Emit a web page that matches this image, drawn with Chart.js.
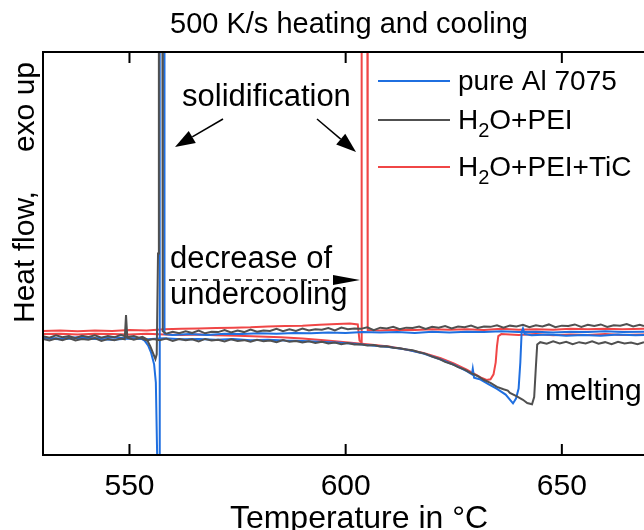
<!DOCTYPE html>
<html lang="en">
<head>
<meta charset="utf-8">
<title>500 K/s heating and cooling</title>
<script src="https://cdn.jsdelivr.net/npm/chart.js@4.4.0/dist/chart.umd.min.js"></script>
<style>
  html, body { margin: 0; padding: 0; background: #fff; }
  #wrap { width: 644px; height: 530px; }
</style>
</head>
<body>
<div id="wrap"><canvas id="dsc" width="644" height="530"></canvas></div>
<script>
// DSC traces at 500 K/s: [temperature °C, heat flow (a.u., exo up)]
const xTicks = [550, 600, 650];
const seriesNames = ['pure Al 7075', 'H2O+PEI', 'H2O+PEI+TiC'];
const seriesColors = ['#1f6fe0', '#505050', '#f04646'];

const alHeat = [[530,-1.1],[534,-1.3],[538,-1.0],[542,-1.2],[546,-1.4],[550,-1.1],[554,-1.3],[558,-1.0],[562,-1.3],[566,-1.2],[570,-1.4],[574,-1.2],[578,-1.5],[582,-1.4],[586,-1.6],[590,-1.7],[594,-1.9],[598,-2.1],[602,-2.4],[606,-2.8],[610,-3.2],[614,-3.8],[618,-4.8],[622,-6.3],[625,-7.6],[628,-9.2],[629.2,-10.0],[629.4,-8.6],[629.7,-10.8],[631,-11.2],[633,-12.4],[635,-13.6],[637,-15.0],[638.7,-17.2],[639.4,-16.0],[640,-13.5],[640.4,-7.0],[640.7,0.5],[641,1.4],[641.4,0.0],[643,-0.3],[647,-0.1],[651,-0.4],[655,-0.2],[659,-0.4],[663,-0.1],[667,-0.3],[669,-0.2]];

const alCool = [[530,-0.9],[534,-1.1],[538,-0.8],[542,-1.0],[546,-0.8],[550,-1.0],[552.5,-1.0],[553.5,-1.6],[554.3,-2.8],[555,-4.6],[555.7,-7.5],[556.1,-12],[556.4,-30],[556.5,-45],[556.9,-45],[557,95],[558,95],[558.1,0.0],[560,-0.2],[564,0.0],[568,-0.2],[572,0.1],[576,0.0],[580,0.2],[584,0.1],[588,0.3],[592,0.2],[596,0.4],[600,0.3],[604,0.5],[608,0.4],[612,0.5],[616,0.3],[620,0.6],[624,0.4],[628,0.6],[632,0.5],[636,0.7],[640,0.5],[644,0.6],[648,0.4],[652,0.6],[656,0.5],[660,0.7],[664,0.5],[669,0.6]];

const peiHeat = [[530,-1.2],[531.5,-1.6],[533,-1.1],[534.5,-1.5],[536,-1.0],[537.5,-1.6],[539,-1.2],[540.5,-1.4],[542,-1.0],[543.5,-1.7],[545,-1.2],[546.5,-1.5],[548,-1.1],[548.9,-1.3],[549.2,4.7],[549.5,-0.9],[551,-1.4],[552.5,-1.0],[554,-1.6],[555.5,-1.2],[557,-1.5],[558.5,-1.1],[560,-1.7],[561.5,-1.2],[563,-1.5],[564.5,-1.3],[566,-1.8],[567.5,-1.2],[569,-1.6],[570.5,-1.4],[572,-1.8],[573.5,-1.3],[575,-1.7],[576.5,-1.5],[578,-1.9],[579.5,-1.4],[581,-1.8],[582.5,-1.6],[584,-2.0],[585.5,-1.5],[587,-1.9],[588.5,-1.7],[590,-2.1],[591.5,-1.8],[593,-2.2],[594.5,-1.9],[596,-2.3],[597.5,-2.1],[599,-2.5],[600.5,-2.2],[602,-2.6],[603.5,-2.5],[605,-2.8],[606.5,-2.7],[608,-3.1],[609.5,-3.0],[611,-3.4],[612.5,-3.5],[614,-3.8],[615.5,-4.0],[617,-4.5],[618.5,-4.9],[620,-5.6],[621.5,-6.1],[623,-6.9],[624.5,-7.4],[626,-8.2],[627.5,-8.8],[629,-9.7],[630.5,-10.4],[632,-11.4],[633.5,-12.1],[635,-13.1],[636.5,-13.7],[637.5,-14.0],[638,-14.6],[639.5,-15.4],[641,-16.3],[642,-17.1],[643.1,-17.4],[643.6,-15.6],[644,-8.0],[644.3,-2.6],[645,-2.0],[646.5,-2.4],[648,-1.8],[649.5,-2.3],[651,-1.9],[652.5,-2.5],[654,-2.0],[655.5,-2.3],[657,-1.8],[658.5,-2.4],[660,-2.0],[661.5,-2.5],[663,-1.9],[664.5,-2.3],[666,-2.1],[667.5,-2.5],[669,-2.0]];

const peiCool = [[530,-0.5],[531.5,-0.9],[533,-0.3],[534.5,-0.8],[536,-0.5],[537.5,-1.0],[539,-0.4],[540.5,-0.7],[542,-0.3],[543.5,-0.9],[545,-0.5],[546.5,-0.8],[548,-0.2],[549.5,-0.7],[551,-0.5],[552.2,-0.9],[553,-0.7],[554,-1.3],[554.8,-3.0],[555.4,-4.6],[556,-6.2],[556.3,-5.0],[556.6,20],[556.8,95],[557.6,95],[557.7,0.7],[558.5,0.1],[560,0.6],[561.5,0.2],[563,0.7],[564.5,0.3],[566,0.9],[567.5,0.2],[569,0.6],[570.5,0.5],[572,1.0],[573.5,0.4],[575,0.9],[576.5,0.5],[578,1.1],[579.5,0.6],[581,0.9],[582.5,0.8],[584,1.3],[585.5,0.7],[587,1.2],[588.5,0.8],[590,1.4],[591.5,0.9],[593,1.2],[594.5,1.1],[596,1.5],[597.5,0.9],[599,1.6],[600.5,1.2],[602,1.4],[603.5,1.3],[605,1.7],[606.5,1.0],[608,1.6],[609.5,1.4],[611,1.8],[612.5,1.2],[614,1.6],[615.5,1.5],[617,1.9],[618.5,1.3],[620,1.8],[621.5,1.6],[623,2.0],[624.5,1.4],[626,1.9],[627.5,1.7],[629,2.1],[630.5,1.5],[632,1.9],[633.5,1.8],[635,2.2],[636.5,1.6],[638,2.1],[639.5,1.9],[641,2.3],[642.5,1.7],[644,2.2],[645.5,1.9],[647,2.4],[648.5,1.7],[650,2.1],[651.5,2.0],[653,2.4],[654.5,1.8],[656,2.3],[657.5,2.0],[659,2.4],[660.5,1.8],[662,2.2],[663.5,2.1],[665,2.5],[666.5,1.9],[668,2.3],[669,2.0]];

const ticHeat = [[530,0.0],[534,0.1],[538,-0.1],[542,0.1],[546,0.0],[550,-0.1],[554,0.1],[558,-0.1],[562,-0.2],[566,-0.1],[570,-0.3],[575,-0.4],[580,-0.6],[585,-0.8],[590,-1.1],[595,-1.5],[600,-2.0],[605,-2.5],[610,-3.1],[614,-3.8],[618,-4.7],[622,-6.0],[625,-7.3],[628,-8.8],[630,-10.0],[631.5,-10.9],[632.6,-11.4],[633.5,-11.2],[634.2,-10.0],[634.7,-7.0],[635,-3.0],[635.3,-0.5],[636,0.0],[640,-0.2],[644,0.0],[648,-0.3],[652,-0.1],[656,-0.2],[660,0.0],[664,-0.2],[669,-0.1]];

const ticCool = [[530,0.8],[534,0.9],[538,0.7],[542,0.9],[546,0.8],[550,1.0],[554,0.9],[558,1.2],[562,1.3],[566,1.4],[570,1.5],[574,1.6],[578,1.7],[582,1.9],[586,2.0],[590,2.1],[594,2.3],[598,2.5],[601,2.6],[602.8,2.4],[603.2,-1.6],[603.6,-2.0],[603.7,95],[605,95],[605.1,1.0],[608,0.9],[612,1.1],[616,1.0],[620,1.2],[624,1.1],[628,1.2],[632,1.0],[636,1.3],[640,1.1],[644,1.2],[648,1.1],[652,1.3],[656,1.2],[660,1.3],[664,1.2],[669,1.3]];

const FONT = '"Liberation Sans", Arial, sans-serif';

function pts(rows) { return rows.map(r => ({ x: r[0], y: r[1] })); }

function trace(rows, i, order) {
    return {
        data: pts(rows),
        borderColor: seriesColors[i],
        borderWidth: 2,
        pointRadius: 0,
        tension: 0,
        order: order
    };
}

// gray drawn on top, then blue, red underneath
const drawOrder = [1, 0, 2];
const datasets = [
    trace(alHeat, 0, drawOrder[0]), trace(alCool, 0, drawOrder[0]),
    trace(peiHeat, 1, drawOrder[1]), trace(peiCool, 1, drawOrder[1]),
    trace(ticHeat, 2, drawOrder[2]), trace(ticCool, 2, drawOrder[2])
];

function arrow(ctx, x1, y1, x2, y2, len, half, dashed) {
    const ang = Math.atan2(y2 - y1, x2 - x1);
    const bx = x2 - len * Math.cos(ang), by = y2 - len * Math.sin(ang);
    ctx.beginPath();
    if (dashed) ctx.setLineDash([6, 5]);
    ctx.moveTo(x1, y1);
    ctx.lineTo(bx, by);
    ctx.stroke();
    ctx.setLineDash([]);
    ctx.beginPath();
    ctx.moveTo(x2, y2);
    ctx.lineTo(bx + half * Math.sin(ang), by - half * Math.cos(ang));
    ctx.lineTo(bx - half * Math.sin(ang), by + half * Math.cos(ang));
    ctx.closePath();
    ctx.fill();
}

// writes "H2O..." with a subscript 2
function chemText(ctx, text, x, y, size) {
    const m = text.match(/^(.*H)2(O.*)$/);
    if (!m) { ctx.fillText(text, x, y); return; }
    ctx.fillText(m[1], x, y);
    x += ctx.measureText(m[1]).width;
    ctx.font = Math.round(size * 0.7) + 'px ' + FONT;
    ctx.fillText('2', x, y + 8);
    x += ctx.measureText('2').width;
    ctx.font = size + 'px ' + FONT;
    ctx.fillText(m[2], x, y);
}

const decor = {
    id: 'decor',
    afterDatasetsDraw(chart) {
        const ctx = chart.ctx, a = chart.chartArea, xs = chart.scales.x;
        ctx.save();
        ctx.strokeStyle = '#000';
        ctx.fillStyle = '#000';
        ctx.lineWidth = 2;

        // axes frame, open on the right
        ctx.beginPath();
        ctx.moveTo(a.right, a.top);
        ctx.lineTo(a.left, a.top);
        ctx.lineTo(a.left, a.bottom);
        ctx.lineTo(a.right, a.bottom);
        xTicks.forEach(t => {
            const px = xs.getPixelForValue(t);
            ctx.moveTo(px, a.bottom);
            ctx.lineTo(px, a.bottom - 11);
            ctx.moveTo(px, a.top);
            ctx.lineTo(px, a.top + 11);
        });
        ctx.stroke();

        ctx.textAlign = 'center';
        ctx.textBaseline = 'alphabetic';
        ctx.font = '30px ' + FONT;
        xTicks.forEach(t => ctx.fillText(String(t), xs.getPixelForValue(t), 495));
        ctx.font = '32px ' + FONT;
        ctx.fillText('Temperature in \u00B0C', 359, 528);
        ctx.font = '29px ' + FONT;
        ctx.fillText('500 K/s heating and cooling', 349, 33);

        // y title, rotated
        ctx.save();
        ctx.translate(34, 0);
        ctx.rotate(-Math.PI / 2);
        ctx.font = '30px ' + FONT;
        ctx.textAlign = 'left';
        ctx.fillText('Heat flow,', -323, 0);
        ctx.textAlign = 'right';
        ctx.fillText('exo up', -62, 0);
        ctx.restore();

        // legend
        const rows = [81, 120, 167];
        ctx.textAlign = 'left';
        seriesNames.forEach((name, i) => {
            ctx.strokeStyle = seriesColors[i];
            ctx.beginPath();
            ctx.moveTo(378, rows[i]);
            ctx.lineTo(450, rows[i]);
            ctx.stroke();
            ctx.font = '28px ' + FONT;
            chemText(ctx, name, 458, rows[i] + 9, 28);
        });

        // annotations
        ctx.strokeStyle = '#000';
        ctx.lineWidth = 1.5;
        ctx.font = '31px ' + FONT;
        ctx.fillText('solidification', 182, 106);
        arrow(ctx, 223, 119, 175, 147, 20, 7, false);
        arrow(ctx, 317, 119, 356, 152, 20, 7, false);
        ctx.fillText('decrease of', 170, 268);
        ctx.fillText('undercooling', 170, 304);
        arrow(ctx, 169, 280, 360, 280, 27, 5, true);
        ctx.font = '30px ' + FONT;
        ctx.fillText('melting', 545, 400);
        ctx.restore();
    }
};

new Chart(document.getElementById('dsc'), {
    type: 'line',
    data: { datasets: datasets },
    options: {
        responsive: false,
        animation: false,
        layout: { padding: { left: 43, top: 52, right: 0, bottom: 75 } },
        scales: {
            x: { type: 'linear', min: 530, max: 669, display: false },
            y: { type: 'linear', min: -30, max: 70, display: false }
        },
        plugins: { legend: { display: false }, tooltip: { enabled: false } }
    },
    plugins: [decor]
});
</script>
</body>
</html>
